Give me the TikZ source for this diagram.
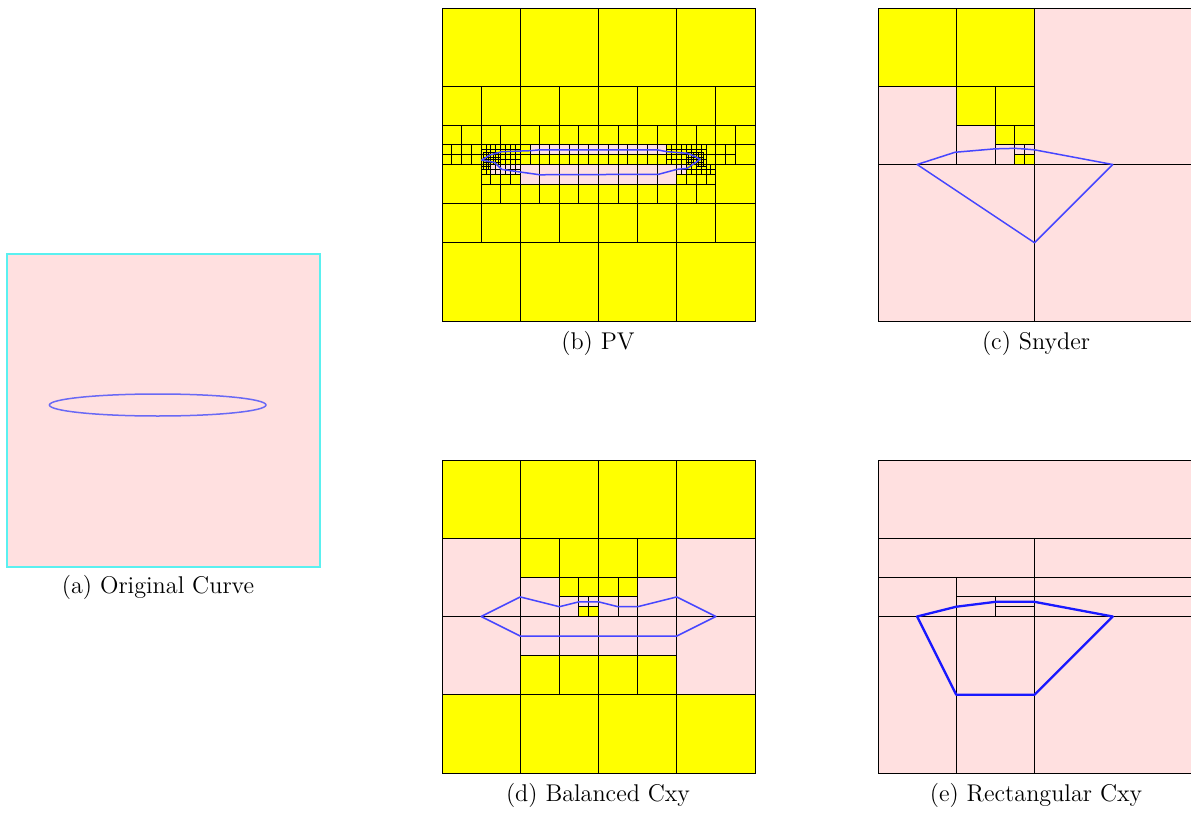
\documentclass[tikz,border=0pt]{standalone}
\definecolor{pinkc}{RGB}{255,224,224}
\definecolor{yel}{RGB}{255,255,0}
\definecolor{curveb}{RGB}{70,70,255}
\definecolor{curvea}{RGB}{105,105,245}
\definecolor{curvee}{RGB}{25,25,255}
\definecolor{cyanb}{RGB}{90,240,240}
\newcommand\YC[3]{\path[yc] (#1,#2) rectangle ++(#3,#3);}
\newcommand\PC[3]{\path[pc] (#1,#2) rectangle ++(#3,#3);}
\begin{document}
\begin{tikzpicture}[x=0.5pt,y=-0.5pt,
  yc/.style={fill=yel,draw=black,line width=0.5pt},
  pc/.style={fill=pinkc,draw=black,line width=0.5pt},
  gl/.style={draw=black,line width=0.5pt},
  crv/.style={draw=curveb,line width=0.75pt,line join=round},
  crvthick/.style={draw=curvee,line width=1.15pt,line join=round},
  captxt/.style={font=\fontsize{12.1}{14}\selectfont,inner sep=0pt},
  panel/.style={x=2.4453125pt,y=-2.4453125pt}]
\useasboundingbox (0,0) rectangle (1191,814);

% (a) Original curve
\path[fill=pinkc,draw=cyanb,line width=0.6pt] (7,254) rectangle (320,567);
\draw[draw=curvea,line width=0.75pt] (157.7,405) ellipse [x radius=108.3, y radius=11];
\node[captxt] (capa) at (158,587) {(a) Original Curve};

% (b) PV
\begin{scope}[xshift=221pt,yshift=-4pt,panel]
\foreach \i in {0,16,32,48}{\YC{\i}{0}{16}\YC{\i}{48}{16}}
\foreach \i in {0,8,...,56}{\YC{\i}{16}{8}\YC{\i}{40}{8}}
\foreach \i in {0,4,...,60}{\YC{\i}{24}{4}}
\foreach \i in {8,12,...,52}{\YC{\i}{36}{4}}
\YC{0}{32}{8}\YC{56}{32}{8}
\foreach \i in {0,2,4,6}{\YC{\i}{28}{2}\YC{\i}{30}{2}}
\foreach \j in {28,30}{\YC{56}{\j}{2}\YC{58}{\j}{2}\YC{54}{\j}{2}}
\YC{60}{28}{4}
% middle band
\YC{16}{28}{2}
\foreach \i in {18,20,...,44}{\PC{\i}{28}{2}}
\foreach \i in {16,18,...,44}{\YC{\i}{30}{2}}
\foreach \i in {16,20,...,44}{\PC{\i}{32}{4}}
% left cluster
\foreach \i in {8,...,15}{\foreach \j in {28,...,31}{\YC{\i}{\j}{1}}}
\foreach \i in {8.5,9,...,11.5}{\foreach \j in {29.5,30,...,31.5}{\YC{\i}{\j}{0.5}}}
\foreach \i in {8,9}{\YC{\i}{32}{1}\YC{\i}{33}{1}}
\foreach \i in {8,8.5,9,9.5}{\YC{\i}{32}{0.5}\YC{\i}{32.5}{0.5}}
\foreach \i in {10,...,15}{\PC{\i}{32}{1}\PC{\i}{33}{1}}
\foreach \i in {8,10,12,14}{\YC{\i}{34}{2}}
% right cluster
\foreach \i in {46,...,53}{\foreach \j in {28,...,31}{\YC{\i}{\j}{1}}}
\foreach \i in {50,50.5,...,53}{\foreach \j in {29.5,30,...,31.5}{\YC{\i}{\j}{0.5}}}
\foreach \i in {48,49}{\PC{\i}{32}{1}\PC{\i}{33}{1}}
\foreach \i in {50,...,55}{\YC{\i}{32}{1}\YC{\i}{33}{1}}
\foreach \i in {52,52.5,53,53.5}{\YC{\i}{32}{0.5}}
\foreach \i in {48,50,52,54}{\YC{\i}{34}{2}}
\path[crv] (8.1,31.1) -- (9.8,30.06) -- (12.2,29.38) -- (18,29.18) -- (20,29.0) -- (44,29.0) -- (46,29.38) -- (50.1,29.7) -- (51.5,30.26) -- (52.8,30.94)
  -- (50.1,32.8) -- (48,33.0) -- (44.3,34.0) -- (20,34.1) -- (12.2,33.0) -- (10.8,31.6) -- (9.8,31.4) -- cycle;
\draw[line width=0.5pt] (0,0) rectangle (64,64);
\end{scope}
\node[captxt] (capb) at (598,343) {(b) PV};

% (c) Snyder
\begin{scope}[xshift=439pt,yshift=-4pt,panel]
\PC{32}{0}{32}\PC{0}{32}{32}\PC{32}{32}{32}
\YC{0}{0}{16}\YC{16}{0}{16}\PC{0}{16}{16}
\YC{16}{16}{8}\YC{24}{16}{8}\PC{16}{24}{8}
\YC{24}{24}{4}\YC{28}{24}{4}\PC{24}{28}{4}
\PC{28}{28}{2}\PC{30}{28}{2}\YC{28}{30}{2}\YC{30}{30}{2}
\path[crv] (8,32) -- (15.74,29.5) -- (23.9,28.8) -- (28,28.7) -- (30.06,28.83) -- (32,29) -- (48,32) -- (32,48) -- cycle;
\end{scope}
\node[captxt] (capc) at (1036,343) {(c) Snyder};

% (d) Balanced Cxy
\begin{scope}[xshift=221pt,yshift=-230pt,panel]
\foreach \i in {0,16,32,48}{\YC{\i}{0}{16}\YC{\i}{48}{16}}
\PC{0}{16}{16}\PC{48}{16}{16}\PC{0}{32}{16}\PC{48}{32}{16}
\foreach \i in {16,24,32,40}{\YC{\i}{16}{8}\PC{\i}{32}{8}\YC{\i}{40}{8}}
\PC{16}{24}{8}\PC{40}{24}{8}
\YC{24}{24}{4}\YC{28}{24}{4}\YC{32}{24}{4}\YC{36}{24}{4}
\PC{24}{28}{4}\PC{32}{28}{4}\PC{36}{28}{4}
\PC{28}{28}{2}\PC{30}{28}{2}\YC{28}{30}{2}\YC{30}{30}{2}
\path[crv] (8,32) -- (16,28) -- (24,30) -- (28,29) -- (32,29) -- (36,30) -- (40,30) -- (48,28) -- (56,32) -- (48,36) -- (16,36) -- cycle;
\end{scope}
\node[captxt] (capd) at (598,795) {(d) Balanced Cxy};

% (e) Rectangular Cxy
\begin{scope}[xshift=439pt,yshift=-230pt,panel]
\path[pc] (0,0) rectangle (64,64);
\draw[gl] (0,16) -- (64,16) (0,24) -- (64,24) (0,32) -- (64,32) (16,28) -- (64,28)
  (32,16) -- (32,64) (16,24) -- (16,64) (24,28) -- (24,32) (24,30) -- (32,30);
\path[crvthick] (8,32) -- (16,30) -- (24,29) -- (32,29) -- (48,32) -- (32,48) -- (16,48) -- cycle;
\end{scope}
\node[captxt] (cape) at (1036,795) {(e) Rectangular Cxy};
\end{tikzpicture}
\end{document}
